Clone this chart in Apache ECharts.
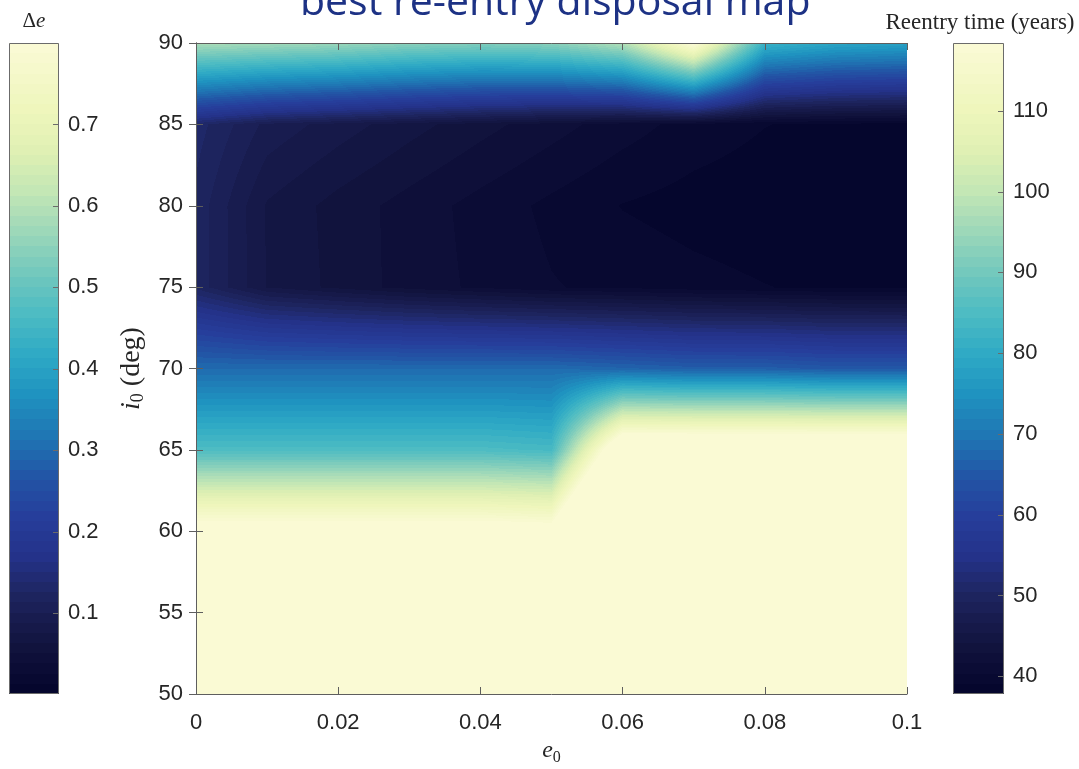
<!DOCTYPE html>
<html>
<head>
<meta charset="utf-8">
<script src="https://cdn.jsdelivr.net/npm/echarts@6/dist/echarts.min.js"></script>
<style>html,body{margin:0;padding:0;background:#fff}#c{width:1079px;height:769px}</style>
</head>
<body>
<div id="c"></div>
<script>
// ---------------- data ----------------
const e0Values = [0, 0.01, 0.02, 0.03, 0.04, 0.05, 0.06, 0.07, 0.08, 0.09, 0.1];
const i0Values = [50, 55, 60, 65, 70, 75, 80, 85, 90];
// Reentry time (years) on the grid, one row per inclination i0, columns follow e0
const reentryI50 = [185, 185, 185, 185, 185, 185, 185, 185, 185, 185, 185];
const reentryI55 = [180, 180, 180, 180, 180, 180, 180, 180, 180, 180, 180];
const reentryI60 = [122, 122, 122, 122, 122, 121, 165, 165, 165, 165, 165];
const reentryI65 = [85, 85, 85, 85, 85, 84, 130, 130, 130, 130, 130];
const reentryI70 = [68, 68, 68, 68, 68, 68, 67, 66, 66, 65, 65];
const reentryI75 = [50, 45.3, 43.7, 42.3, 41.3, 40.4, 40.0, 39.5, 39.1, 38.8, 38.7];
const reentryI80 = [50, 45.2, 43.6, 42.3, 41.1, 40.0, 39.0, 38.5, 38.2, 38.1, 38.1];
const reentryI85 = [51, 47.5, 46.0, 44.6, 43.3, 42.1, 40.9, 39.8, 39.1, 38.7, 38.5];
const reentryI90 = [97, 96, 95, 93, 92, 93, 98, 119, 82, 79, 78];
const reentryRows = [reentryI50, reentryI55, reentryI60, reentryI65, reentryI70,
                     reentryI75, reentryI80, reentryI85, reentryI90];

const xTickStep = 0.02;
const yTickStep = 5;
const deltaERange = [0.001, 0.8];
const deltaETicks = [0.1, 0.2, 0.3, 0.4, 0.5, 0.6, 0.7];
const timeRange = [37.8, 118.4];
const timeTicks = [40, 50, 60, 70, 80, 90, 100, 110];

// ---------------- colormap (style) ----------------
const cmapStops = [
  [0.000, '#04042b'], [0.040, '#0b0c35'], [0.077, '#12143f'], [0.115, '#181b4e'],
  [0.152, '#1e2560'], [0.211, '#243289'],
  [0.273, '#263e9b'], [0.335, '#2256a6'], [0.398, '#1f77b4'], [0.460, '#1f93c0'],
  [0.522, '#2faac5'], [0.584, '#4dbcc3'], [0.646, '#72c8bd'], [0.708, '#9bd7b9'],
  [0.770, '#c2e6b5'], [0.832, '#dff0b3'], [0.894, '#eef6bb'], [1.000, '#fbfad6']
];
function hexRgb(h) { return [parseInt(h.substr(1,2),16), parseInt(h.substr(3,2),16), parseInt(h.substr(5,2),16)]; }
const NLEV = 64;
const LUT = [];
for (let k = 0; k < NLEV; k++) {
  const t = (k + 0.5) / NLEV;
  let s = 0;
  while (s < cmapStops.length - 2 && cmapStops[s + 1][0] < t) s++;
  const a = cmapStops[s], b = cmapStops[s + 1];
  const f = Math.min(1, Math.max(0, (t - a[0]) / (b[0] - a[0])));
  const ca = hexRgb(a[1]), cb = hexRgb(b[1]);
  LUT.push([0,1,2].map(q => Math.round(ca[q] + (cb[q] - ca[q]) * f)));
}
function levelOf(v, lo, hi) {
  let k = Math.floor((v - lo) / (hi - lo) * NLEV);
  return Math.max(0, Math.min(NLEV - 1, k));
}
function lutCss(k) { const c = LUT[k]; return 'rgb(' + c[0] + ',' + c[1] + ',' + c[2] + ')'; }
function barGradient() {
  const stops = [];
  for (let k = 0; k < NLEV; k++) {
    stops.push({offset: k / NLEV, color: lutCss(k)});
    stops.push({offset: (k + 1) / NLEV, color: lutCss(k)});
  }
  return {type: 'linear', x: 0, y: 1, x2: 0, y2: 0, colorStops: stops};
}

// ---------------- cells ----------------
const fieldCells = [];
for (let k = 0; k < i0Values.length - 1; k++) {
  for (let j = 0; j < e0Values.length - 1; j++) {
    fieldCells.push([e0Values[j], i0Values[k], e0Values[j + 1], i0Values[k + 1],
      reentryRows[k][j], reentryRows[k][j + 1], reentryRows[k + 1][j], reentryRows[k + 1][j + 1]]);
  }
}

function renderCell(params, api) {
  const pA = api.coord([api.value(0), api.value(1)]);
  const pB = api.coord([api.value(2), api.value(3)]);
  const v00 = api.value(4), v10 = api.value(5), v01 = api.value(6), v11 = api.value(7);
  const x0 = Math.floor(pA[0]), x1 = Math.ceil(pB[0]);
  const y0 = Math.floor(pB[1]), y1 = Math.ceil(pA[1]);
  const w = Math.max(1, x1 - x0), h = Math.max(1, y1 - y0);
  const cv = document.createElement('canvas');
  cv.width = w; cv.height = h;
  const ctx = cv.getContext('2d');
  const img = ctx.createImageData(w, h);
  const d = img.data;
  for (let py = 0; py < h; py++) {
    const yc = y0 + py + 0.5;
    const fy = Math.min(1, Math.max(0, (pA[1] - yc) / (pA[1] - pB[1])));
    for (let px = 0; px < w; px++) {
      const xc = x0 + px + 0.5;
      const fx = Math.min(1, Math.max(0, (xc - pA[0]) / (pB[0] - pA[0])));
      const v = v00 * (1 - fx) * (1 - fy) + v10 * fx * (1 - fy) + v01 * (1 - fx) * fy + v11 * fx * fy;
      const c = LUT[levelOf(v, timeRange[0], timeRange[1])];
      const o = (py * w + px) * 4;
      d[o] = c[0]; d[o + 1] = c[1]; d[o + 2] = c[2]; d[o + 3] = 255;
    }
  }
  ctx.putImageData(img, 0, 0);
  return {type: 'image', style: {image: cv, x: x0, y: y0, width: w, height: h}};
}

function makeBarRenderer(ticks) {
  return function (params, api) {
    const pA = api.coord([api.value(0), api.value(1)]);
    const pB = api.coord([api.value(2), api.value(3)]);
    const x = pA[0], y = pB[1], w = pB[0] - pA[0], h = pA[1] - pB[1];
    const children = [
      {type: 'rect', shape: {x: x, y: y, width: w, height: h}, style: {fill: barGradient()}},
      {type: 'rect', shape: {x: x + 0.5, y: y + 0.5, width: w - 1, height: h - 1}, style: {fill: 'none', stroke: '#6b6b6b', lineWidth: 1}}
    ];
    ticks.forEach(function (t) {
      const p = api.coord([1, t]);
      const yy = Math.round(p[1]) + 0.5;
      children.push({type: 'line', shape: {x1: pB[0] - 1, y1: yy, x2: pB[0] - 6, y2: yy},
        style: {stroke: '#6b6b6b', lineWidth: 1}});
    });
    return {type: 'group', children: children};
  };
}

// ---------------- styles ----------------
const SANS = "'Liberation Sans', Arial, sans-serif";
const SERIF = "'Liberation Serif', 'DejaVu Serif', serif";
const AX = '#5e5e5e';
const LBL = '#262626';

function mainAxisCommon() {
  return {
    type: 'value', z: 10,
    axisLine: {show: true, lineStyle: {color: AX, width: 1}},
    axisTick: {show: true, inside: true, length: 7, lineStyle: {color: AX}},
    splitLine: {show: false}
  };
}

const option = {
  animation: false,
  backgroundColor: '#ffffff',
  title: [{
    text: 'best re-entry disposal map',
    left: 300, top: -17, padding: 0,
    textStyle: {fontFamily: "'Open Sans', sans-serif", fontSize: 41, fontWeight: 'normal', color: '#1d3285'}
  }],
  graphic: [
    {type: 'text', x: 34, y: 21, style: {text: '{n|Δ}{i|e}', align: 'center', verticalAlign: 'middle',
      rich: {n: {fontFamily: SERIF, fontSize: 21, fill: LBL}, i: {fontFamily: SERIF, fontStyle: 'italic', fontSize: 21, fill: LBL}}}},
    {type: 'text', x: 980, y: 23, style: {text: 'Reentry time (years)', align: 'center', verticalAlign: 'middle',
      fontFamily: SERIF, fontSize: 23, fill: LBL}}
  ],
  grid: [
    {left: 196, top: 43, width: 711, height: 651, outerBoundsMode: 'none', containLabel: false},
    {left: 9, top: 43, width: 50, height: 651, outerBoundsMode: 'none', containLabel: false},
    {left: 953, top: 43, width: 51, height: 651, outerBoundsMode: 'none', containLabel: false}
  ],
  xAxis: [
    Object.assign(mainAxisCommon(), {
      gridIndex: 0, position: 'bottom', min: 0, max: 0.1, interval: xTickStep,
      axisLabel: {margin: 18, fontFamily: SANS, fontSize: 22, color: LBL},
      name: '{i|e}{s|0}', nameLocation: 'middle', nameGap: 42,
      nameTextStyle: {rich: {
        i: {fontFamily: SERIF, fontStyle: 'italic', fontSize: 24, color: LBL, lineHeight: 30, verticalAlign: 'middle'},
        s: {fontFamily: SERIF, fontSize: 16, color: LBL, lineHeight: 17, verticalAlign: 'bottom'}}}
    }),
    Object.assign(mainAxisCommon(), {
      gridIndex: 0, position: 'top', min: 0, max: 0.1, interval: xTickStep, axisLabel: {show: false}
    }),
    {gridIndex: 1, type: 'value', min: 0, max: 1, show: false},
    {gridIndex: 2, type: 'value', min: 0, max: 1, show: false}
  ],
  yAxis: [
    Object.assign(mainAxisCommon(), {
      gridIndex: 0, position: 'left', min: 50, max: 90, interval: yTickStep,
      axisLabel: {margin: 13, fontFamily: SANS, fontSize: 22, color: LBL},
      name: '{i|i}{s|0}{n| (deg)}', nameLocation: 'middle', nameGap: 48,
      nameTextStyle: {rich: {
        i: {fontFamily: SERIF, fontStyle: 'italic', fontSize: 28, color: LBL, lineHeight: 32, verticalAlign: 'middle'},
        n: {fontFamily: SERIF, fontSize: 28, color: LBL, lineHeight: 32, verticalAlign: 'middle'},
        s: {fontFamily: SERIF, fontSize: 18, color: LBL, lineHeight: 19, verticalAlign: 'bottom'}}}
    }),
    Object.assign(mainAxisCommon(), {
      gridIndex: 0, position: 'right', min: 50, max: 90, interval: yTickStep, axisLabel: {show: false}
    }),
    {
      gridIndex: 1, type: 'value', position: 'right', min: deltaERange[0], max: deltaERange[1], z: 10,
      axisLine: {show: false},
      axisTick: {show: false},
      axisLabel: {margin: 9, customValues: deltaETicks, fontFamily: SANS, fontSize: 22, color: LBL},
      splitLine: {show: false}
    },
    {
      gridIndex: 2, type: 'value', position: 'right', min: timeRange[0], max: timeRange[1], z: 10,
      axisLine: {show: false},
      axisTick: {show: false},
      axisLabel: {margin: 9, customValues: timeTicks, fontFamily: SANS, fontSize: 22, color: LBL},
      splitLine: {show: false}
    }
  ],
  series: [
    {type: 'custom', name: 'Reentry time', xAxisIndex: 0, yAxisIndex: 0, z: 1, silent: true, clip: true,
     renderItem: renderCell, encode: {x: [0, 2], y: [1, 3]}, data: fieldCells},
    {type: 'custom', name: 'Δe colorbar', xAxisIndex: 2, yAxisIndex: 2, z: 1, silent: true,
     renderItem: makeBarRenderer(deltaETicks), encode: {x: [0, 2], y: [1, 3]}, data: [[0, deltaERange[0], 1, deltaERange[1]]]},
    {type: 'custom', name: 'time colorbar', xAxisIndex: 3, yAxisIndex: 3, z: 1, silent: true,
     renderItem: makeBarRenderer(timeTicks), encode: {x: [0, 2], y: [1, 3]}, data: [[0, timeRange[0], 1, timeRange[1]]]}
  ]
};

const chart = echarts.init(document.getElementById('c'), null, {renderer: 'canvas'});
chart.setOption(option);
</script>
</body>
</html>
